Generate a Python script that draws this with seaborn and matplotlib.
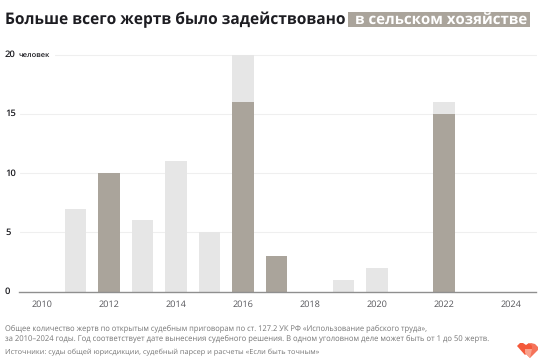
import matplotlib
matplotlib.use("Agg")
import matplotlib.pyplot as plt
import pandas as pd
import seaborn as sns

# --- данные ---
years = [2011, 2012, 2013, 2014, 2015, 2016, 2017, 2019, 2020, 2022]
total_victims = [7, 10, 6, 11, 5, 20, 3, 1, 2, 16]
agri_victims = [0, 10, 0, 0, 0, 16, 3, 0, 0, 15]
year_ticks = [2010, 2012, 2014, 2016, 2018, 2020, 2022, 2024]
y_ticks = [0, 5, 10, 15, 20]
y_labels = ["0", "5", "10", "15", "20"]

W, H = 546, 364
LIGHT = "#e6e6e6"
DARK = "#aaa49b"
INK = "#1d1d22"
GREY = "#757575"


def fx(px):
    return px / W


def fy(px):
    return 1 - px / H


def fit_width(txt, width_px):
    # подгоняем кегль под нужную ширину строки
    renderer = fig.canvas.get_renderer()
    for _ in range(4):
        w = txt.get_window_extent(renderer).width
        txt.set_fontsize(txt.get_fontsize() * width_px / w)


sns.set_theme(style="white")
plt.rcParams["font.family"] = ["Open Sans", "DejaVu Sans"]
plt.rcParams["text.hinting"] = "no_hinting"
plt.rcParams["text.hinting_factor"] = 8

df = pd.DataFrame({"year": years, "total": total_victims, "agri": agri_victims})

fig = plt.figure(figsize=(W / 100, H / 100), dpi=100, facecolor="white")
ax = fig.add_axes([fx(19), fy(291.5), (536 - 19) / W, (291.5 - 54.7) / H])

sns.barplot(data=df, x="year", y="total", color=LIGHT, native_scale=True, width=0.65,
            saturation=1, linewidth=0, edgecolor="none", ax=ax, zorder=2)
sns.barplot(data=df, x="year", y="agri", color=DARK, native_scale=True, width=0.65,
            saturation=1, linewidth=0, edgecolor="none", ax=ax, zorder=3)

ax.set_xlim(2009.313, 2024.746)
ax.set_ylim(0, 20)
ax.set_xlabel("")
ax.set_ylabel("")
ax.set_xticks(year_ticks)
ax.set_xticklabels([str(y) for y in year_ticks], fontsize=6.6, color="#55555a")
ax.tick_params(axis="x", length=0, pad=6)
ax.set_yticks([])
sns.despine(ax=ax, left=True, top=True, right=True)
ax.spines["bottom"].set_color("#8f8f8f")
ax.spines["bottom"].set_linewidth(1)
ax.spines["bottom"].set_zorder(5)
for v in y_ticks[1:]:
    ax.axhline(v, color="#efefef", lw=0.8, zorder=1,
               xmin=(36 if v == 20 else 1) / (536 - 19), clip_on=False)

for v, lab in zip(y_ticks, y_labels):
    fig.text(fx(5), fy(291.5 - v * 11.84), lab, fontsize=6.8, fontweight="semibold",
             color=INK, ha="left", va="center")
fig_unit = fig.text(fx(18), fy(54.7), "человек", fontsize=5.5, fontweight="semibold", color=INK,
                    ha="left", va="center")
fit_width(fig_unit, 31)

title = fig.text(fx(5), fy(19.5), "Больше всего жертв было задействовано", fontsize=11,
                 fontweight="bold", color=INK, ha="left", va="center")
fit_width(title, 339)
fig.add_artist(plt.Rectangle((fx(348), fy(27)), 182 / W, 15 / H, transform=fig.transFigure,
                             facecolor=DARK, edgecolor="none"))
pill = fig.text(fx(355), fy(19.5), "в сельском хозяйстве", fontsize=10.7, fontweight="bold",
                color="white", ha="left", va="center")
fit_width(pill, 172)

note1 = fig.text(fx(5), fy(329),
                 "Общее количество жертв по открытым судебным приговорам по ст. 127.2 УК РФ «Использование рабского труда»,",
                 fontsize=5.4, color=GREY, ha="left", va="center")
fit_width(note1, 424)
note2 = fig.text(fx(5), fy(339),
                 "за 2010–2024 годы. Год соответствует дате вынесения судебного решения. В одном уголовном деле может быть от 1 до 50 жертв.",
                 fontsize=5.4, color=GREY, ha="left", va="center")
fit_width(note2, 478)
note3 = fig.text(fx(5), fy(352.5),
                 "Источники: суды общей юрисдикции, судебный парсер и расчеты «Если быть точным»",
                 fontsize=5.4, color=GREY, ha="left", va="center")
fit_width(note3, 315)

# логотип: два сердечка
right_heart = [(524, 348), (528, 344), (531, 343), (535, 344), (538, 347), (538, 350), (530, 358), (526, 354)]
left_heart = [(517, 346), (520, 343), (523, 343), (526, 345), (529, 343), (532, 346), (532, 349), (525, 355)]
overlap = [(525, 349), (532, 349), (530, 358), (525, 353)]
for pts, col in [(right_heart, "#f5735a"), (left_heart, "#f4593a"), (overlap, "#f9a18c")]:
    fig.add_artist(plt.Polygon([(fx(x), fy(y)) for x, y in pts], closed=True,
                               transform=fig.transFigure, facecolor=col, edgecolor="none"))

fig.savefig("out.png", dpi=100)
